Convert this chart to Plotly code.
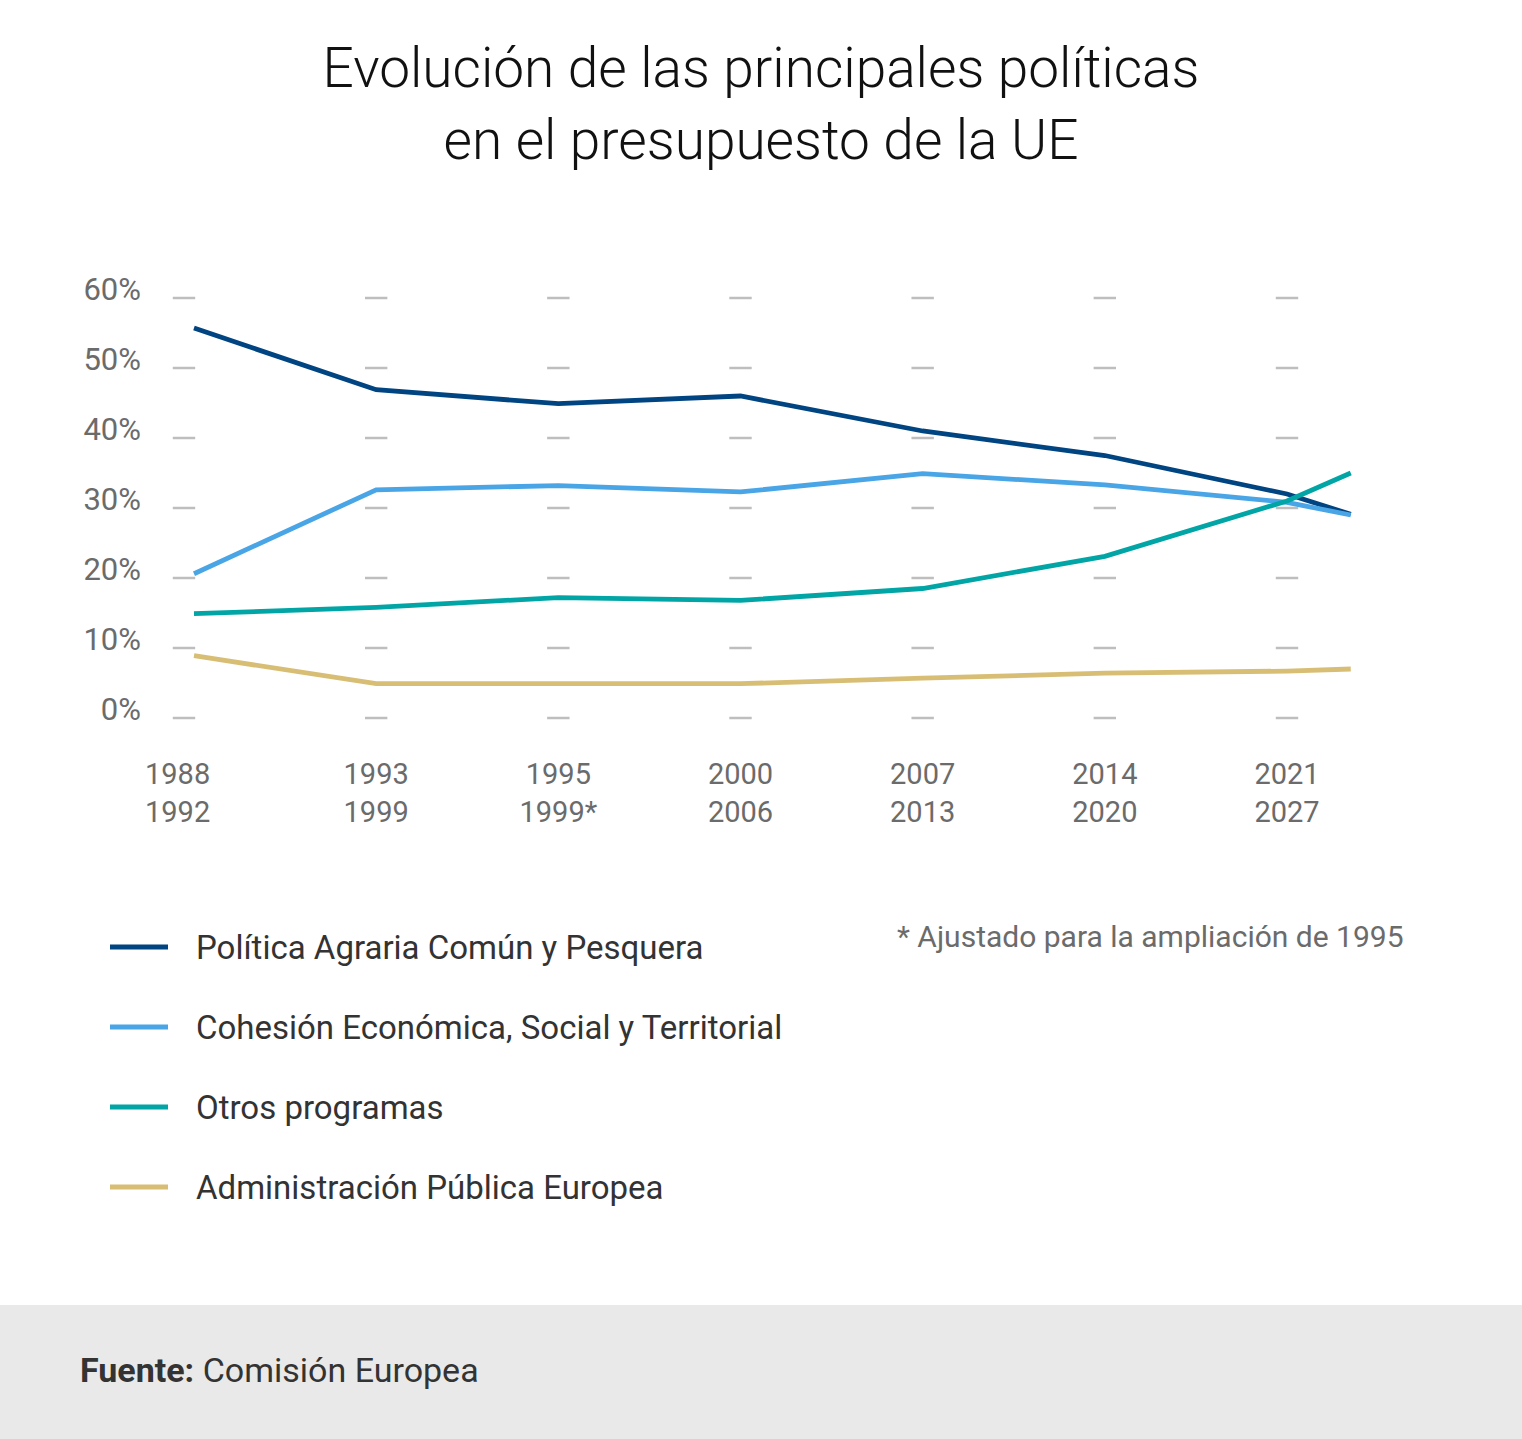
import plotly.graph_objects as go

# ---------------- data ----------------
periodos = ["1988<br>1992", "1993<br>1999", "1995<br>1999*", "2000<br>2006",
            "2007<br>2013", "2014<br>2020", "2021<br>2027"]
periodo_idx = [0, 1, 2, 3, 4, 5, 6]
# series positions along the period axis (last point = end of 2021-2027 period)
serie_pos = [0, 1, 2, 3, 4, 5, 6, 6.35]

series_nombres = ["Política Agraria Común y Pesquera",
                  "Cohesión Económica, Social y Territorial",
                  "Otros programas",
                  "Administración Pública Europea"]
pac = [55.7, 46.9, 44.9, 46.0, 41.0, 37.5, 32.0, 29.1]
cohesion = [20.6, 32.6, 33.2, 32.3, 34.9, 33.3, 30.8, 29.0]
otros = [14.9, 15.8, 17.2, 16.8, 18.5, 23.1, 31.0, 35.0]
admin = [8.9, 4.9, 4.9, 4.9, 5.7, 6.4, 6.7, 7.0]
valores = [pac, cohesion, otros, admin]
colores = ["#004481", "#49A5E6", "#02A5A5", "#D8BE75"]

y_ticks = [0, 10, 20, 30, 40, 50, 60]
y_labels = ["0%", "10%", "20%", "30%", "40%", "50%", "60%"]

titulo = "Evolución de las principales políticas<br>en el presupuesto de la UE"
nota = "* Ajustado para la ampliación de 1995"
fuente = "<b>Fuente:</b> Comisión Europea"

# ---------------- layout geometry (pixels) ----------------
FW, FH = 1522, 1439
L, R, T, B = 160, 1400, 260, 740
PW, PH = R - L, B - T
X0_PX, X6_PX = 194, 1287          # pixel of period 0 and period 6
Y0_PX, PX_PER_UNIT = 718, 7.0      # pixel of 0% and px per percentage point
sx = (X6_PX - X0_PX) / 6
x_range = [(L - X0_PX) / sx, (R - X0_PX) / sx]
y_range = [(Y0_PX - B) / PX_PER_UNIT, (Y0_PX - T) / PX_PER_UNIT]

# first period's tick/dash sits slightly left of its first data point
tick_pos = [i - 0.09 if i == 0 else i for i in periodo_idx]
dash_pos = [i - 0.055 if i == 0 else i for i in periodo_idx]


def pxx(p):
    return (p - L) / PW


def pxy(p):
    return (B - p) / PH


FONT = "Roboto"
fig = go.Figure()

# short dash "gridlines" at every period / tick
gx, gy = [], []
for xi in dash_pos:
    for yv in y_ticks:
        gx.append(xi)
        gy.append(yv)
fig.add_trace(go.Scatter(
    x=gx, y=gy, mode="markers", hoverinfo="skip", showlegend=False,
    marker=dict(symbol="line-ew", size=16, line=dict(width=2.5, color="#BEBEBE")),
))

for nombre, vals, col in zip(series_nombres, valores, colores):
    fig.add_trace(go.Scatter(
        x=serie_pos, y=vals, mode="lines", name=nombre, showlegend=False,
        line=dict(color=col, width=4.8), hovertemplate="%{y:.1f}%<extra>" + nombre + "</extra>",
    ))

shapes = []
annotations = []

# manual legend
leg_rows = [947, 1027, 1107, 1187]
for nombre, col, yy in zip(series_nombres, colores, leg_rows):
    shapes.append(dict(type="line", xref="paper", yref="paper",
                       x0=pxx(110), x1=pxx(168), y0=pxy(yy), y1=pxy(yy),
                       line=dict(color=col, width=4.8)))
    annotations.append(dict(xref="paper", yref="paper", x=pxx(194), y=pxy(yy),
                            text=nombre, showarrow=False, xanchor="left", yanchor="middle",
                            font=dict(family=FONT, size=33, color="#333333")))

# footnote
annotations.append(dict(xref="paper", yref="paper", x=pxx(895), y=pxy(936),
                        text=nota, showarrow=False, xanchor="left", yanchor="middle",
                        font=dict(family=FONT, size=30, color="#6B6B6B")))

# footer band
shapes.append(dict(type="rect", xref="paper", yref="paper", layer="below",
                   x0=pxx(0), x1=pxx(FW), y0=pxy(FH), y1=pxy(1305),
                   fillcolor="#E9E9E9", line=dict(width=0)))
annotations.append(dict(xref="paper", yref="paper", x=pxx(78), y=pxy(1370),
                        text=fuente, showarrow=False, xanchor="left", yanchor="middle",
                        font=dict(family=FONT, size=34, color="#333333")))

fig.update_layout(
    width=FW, height=FH,
    margin=dict(l=L, r=FW - R, t=T, b=FH - B),
    paper_bgcolor="white", plot_bgcolor="white",
    showlegend=False,
    title=dict(text=titulo, x=761 / FW, xanchor="center", xref="container",
               y=1 - 87 / FH, yanchor="middle", yref="container",
               font=dict(family=FONT, size=55, color="#111111", weight=300)),
    shapes=shapes, annotations=annotations,
    xaxis=dict(range=x_range, tickmode="array", tickvals=tick_pos, ticktext=periodos,
               showgrid=False, zeroline=False, showline=False, ticks="",
               ticklabelstandoff=14,
               tickfont=dict(family=FONT, size=29, color="#6B6B6B")),
    yaxis=dict(range=y_range, tickmode="array", tickvals=y_ticks, ticktext=y_labels,
               showgrid=False, zeroline=False, showline=False, ticks="",
               ticklabelstandoff=18, ticklabelshift=-9,
               tickfont=dict(family=FONT, size=31, color="#6B6B6B")),
)

fig.write_html("out.html", config={"displayModeBar": False},
               post_script="document.body.style.margin='0';")
